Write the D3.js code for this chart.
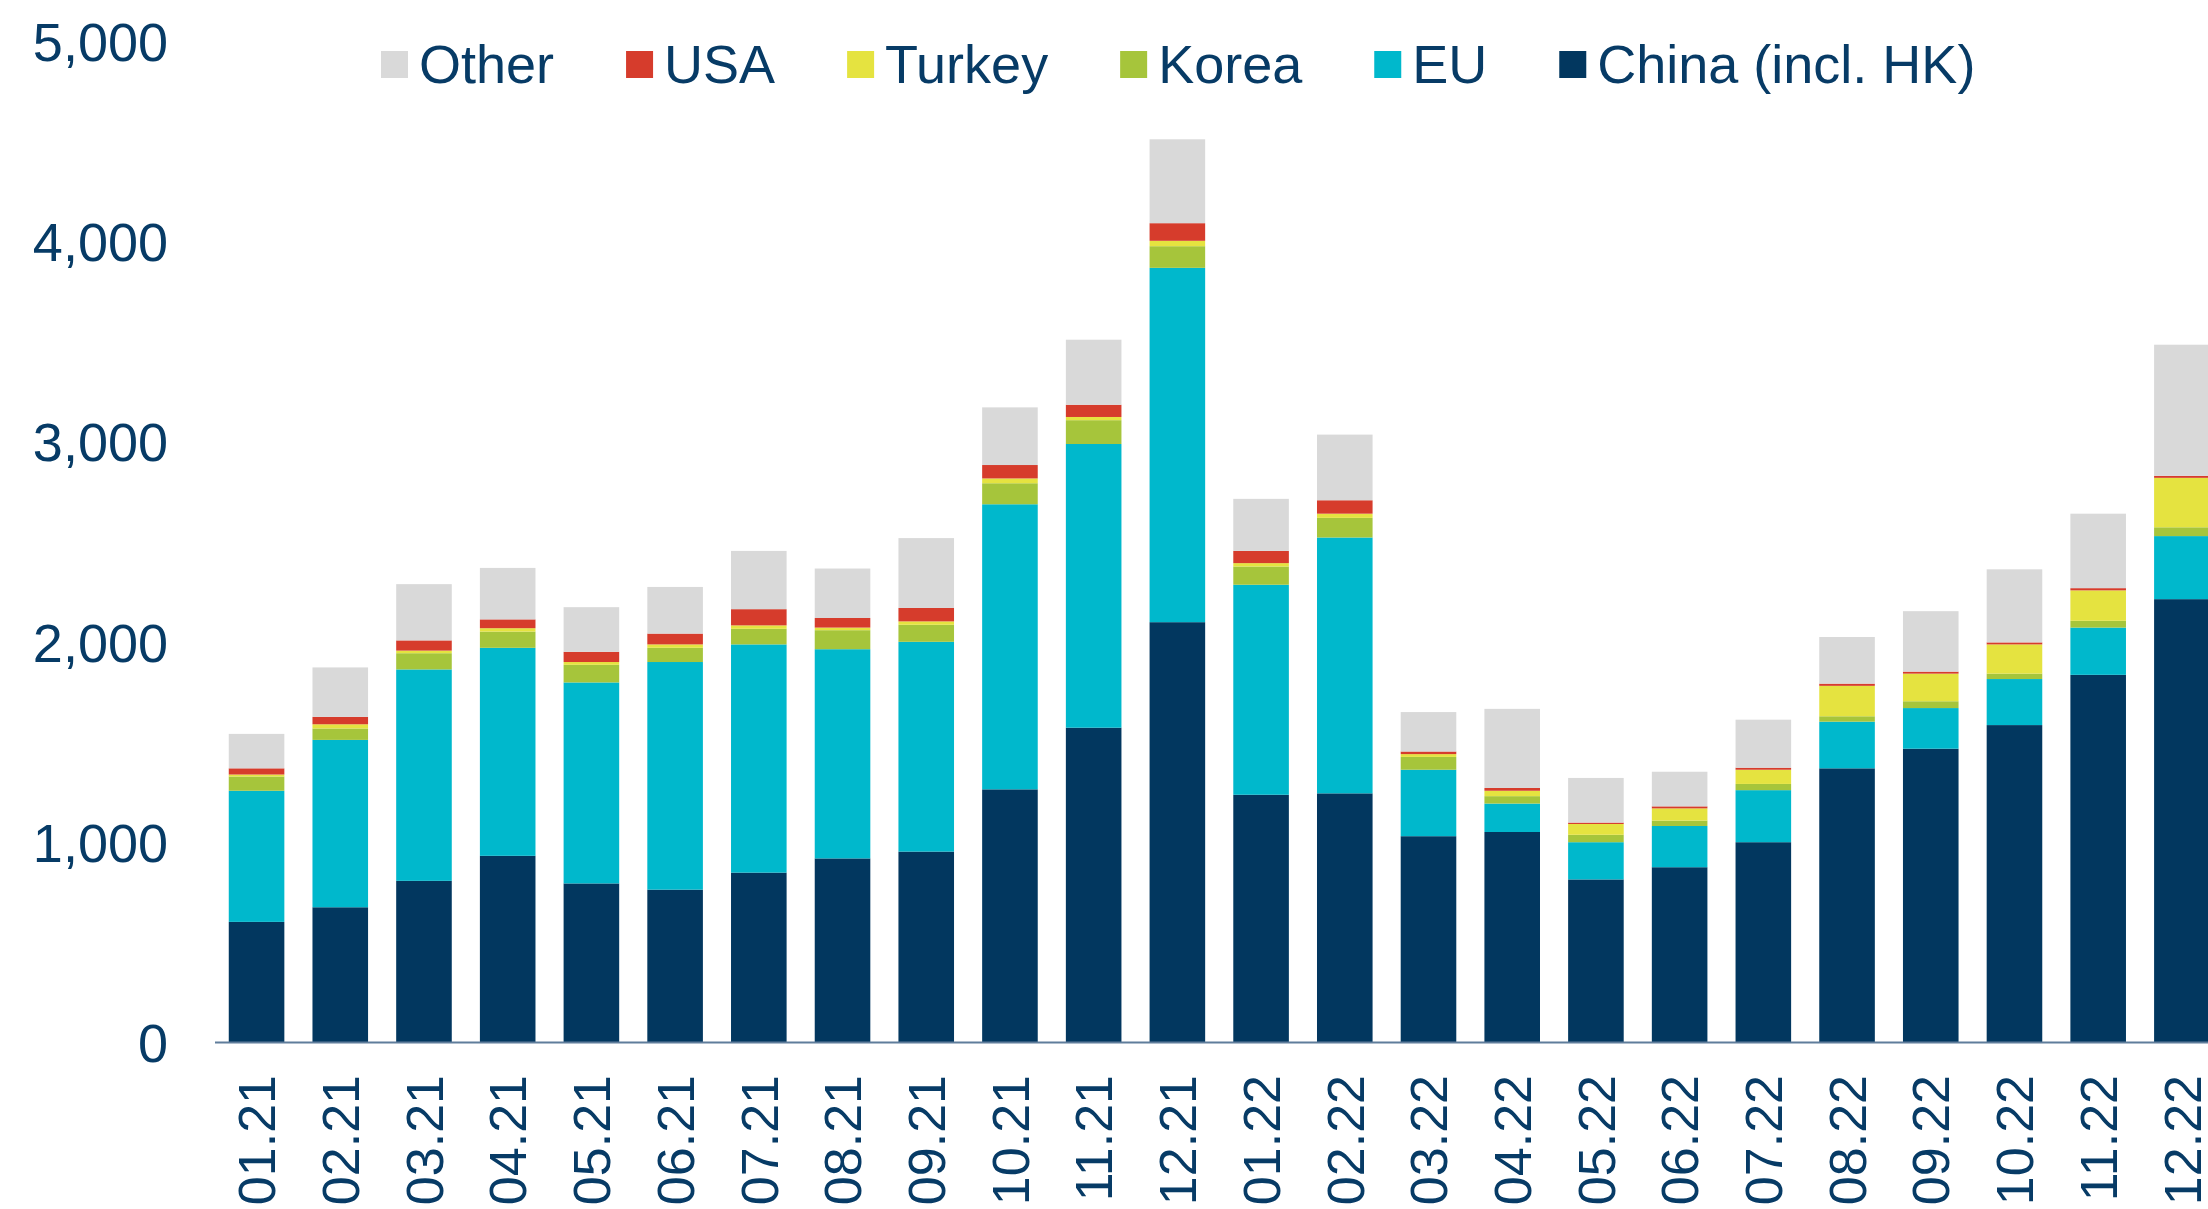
<!DOCTYPE html>
<html>
<head>
<meta charset="utf-8">
<script src="https://cdn.jsdelivr.net/npm/d3@7"></script>
<style>
  body { margin: 0; background: #fff; }
  svg { display: block; font-family: "Liberation Sans", Arial, sans-serif; }
</style>
</head>
<body>
<svg id="chart"></svg>
<script>
// monthly values, thousand tonnes
const months = ["01.21", "02.21", "03.21", "04.21", "05.21", "06.21", "07.21", "08.21", "09.21", "10.21", "11.21", "12.21",
    "01.22", "02.22", "03.22", "04.22", "05.22", "06.22", "07.22", "08.22", "09.22", "10.22", "11.22", "12.22"];
const china = [600, 673, 805, 930, 792, 761, 846, 917, 951, 1262, 1570, 2097, 1235, 1242, 1028, 1049, 812, 873, 998, 1367, 1465, 1583, 1834, 2212];
const eu = [655, 836, 1056, 1039, 1004, 1137, 1140, 1045, 1048, 1424, 1417, 1770, 1049, 1278, 332, 142, 186, 206, 260, 233, 203, 230, 236, 315];
const korea = [71, 57, 81, 81, 88, 71, 78, 95, 85, 105, 119, 108, 91, 98, 64, 37, 37, 27, 31, 27, 34, 27, 34, 44];
const turkey = [10, 21, 13, 17, 14, 17, 17, 13, 17, 24, 16, 27, 17, 21, 14, 27, 54, 61, 71, 152, 138, 146, 152, 247];
const usa = [31, 37, 51, 44, 51, 54, 81, 48, 67, 67, 61, 88, 61, 67, 13, 14, 7, 10, 10, 11, 10, 10, 11, 10];
const other = [172, 247, 281, 257, 223, 233, 291, 247, 349, 288, 325, 419, 260, 328, 197, 395, 223, 173, 240, 233, 302, 365, 372, 655];

const seriesNames = ["China (incl. HK)", "EU", "Korea", "Turkey", "USA", "Other"];
const seriesValues = [china, eu, korea, turkey, usa, other];
const yTicks = [0, 1000, 2000, 3000, 4000, 5000];

class StackedBars {
    constructor(_config) {
        this.config = {
            parentElement: _config.parentElement,
            containerWidth: _config.containerWidth || 2208,
            containerHeight: _config.containerHeight || 1209,
        }
        this.initVis();
    }

    initVis() {
        let vis = this;
        vis.textColor = "#073b66";
        vis.colors = d3.scaleOrdinal()
            .domain(seriesNames)
            .range(["#02375f", "#00b8cc", "#a6c53b", "#e5e340", "#d63c2c", "#d9d9d9"]);

        vis.svg = d3.select(vis.config.parentElement)
            .attr("width", vis.config.containerWidth)
            .attr("height", vis.config.containerHeight);

        vis.xScale = d3.scaleBand()
            .domain(months)
            .range([214.7, 214.7 + 24 * 83.71])
            .paddingInner(0.336)
            .paddingOuter(0.168);

        vis.yScale = d3.scaleLinear()
            .domain([0, 5000])
            .range([1042, 41]);

        vis.barsG = vis.svg.append("g");
        vis.axisY = vis.svg.append("g");
        vis.axisX = vis.svg.append("g");
        vis.legendG = vis.svg.append("g");
    }

    update() {
        let vis = this;
        vis.table = months.map((m, i) => {
            let row = { month: m };
            seriesNames.forEach((s, j) => row[s] = seriesValues[j][i]);
            return row;
        });
        vis.stacked = d3.stack().keys(seriesNames)(vis.table);
        vis.render();
    }

    render() {
        let vis = this;

        vis.barsG.selectAll(".layer")
            .data(vis.stacked)
            .join("g")
            .attr("class", "layer")
            .attr("fill", d => vis.colors(d.key))
            .selectAll("rect")
            .data(d => d)
            .join("rect")
            .attr("x", d => vis.xScale(d.data.month))
            .attr("y", d => vis.yScale(d[1]))
            .attr("height", d => vis.yScale(d[0]) - vis.yScale(d[1]))
            .attr("width", vis.xScale.bandwidth());

        // y axis: labels only
        vis.axisY.attr("transform", "translate(168,0)")
            .call(d3.axisLeft(vis.yScale).tickValues(yTicks).tickSize(0).tickPadding(0).tickFormat(d3.format(",")))
            .call(g => g.select(".domain").remove())
            .selectAll("text")
            .attr("fill", vis.textColor)
            .attr("font-size", 54)
            .attr("font-family", "Liberation Sans, Arial, sans-serif")
            .attr("dy", "0.36em");

        // x axis: baseline plus rotated month labels
        vis.axisX.attr("transform", `translate(0,${vis.yScale(0)})`)
            .call(d3.axisBottom(vis.xScale).tickSize(0).tickPadding(0))
            .call(g => g.select(".domain")
                .attr("d", `M215,0.5H${vis.config.containerWidth}`)
                .attr("stroke", "#5f7d9b")
                .attr("stroke-width", 2))
            .selectAll("text")
            .attr("fill", vis.textColor)
            .attr("font-size", 52)
            .attr("font-family", "Liberation Sans, Arial, sans-serif")
            .attr("text-anchor", "end")
            .attr("y", 0)
            .attr("x", 0)
            .attr("dy", "0.36em")
            .attr("transform", "translate(0,33) rotate(-90)");

        // legend, reverse of stack order
        let items = vis.legendG.selectAll(".legend-item")
            .data(seriesNames.slice().reverse())
            .join("g")
            .attr("class", "legend-item");
        items.append("rect")
            .attr("width", 27)
            .attr("height", 27)
            .attr("y", 51)
            .attr("fill", d => vis.colors(d));
        items.append("text")
            .attr("x", 38)
            .attr("y", 83)
            .attr("fill", vis.textColor)
            .attr("font-size", 54)
            .text(d => d);

        let xPos = 381;
        items.each(function () {
            let g = d3.select(this);
            g.attr("transform", `translate(${xPos},0)`);
            xPos += 38 + g.select("text").node().getComputedTextLength() + 72;
        });
    }
}

let chart = new StackedBars({ parentElement: "#chart" });
chart.update();
</script>
</body>
</html>
